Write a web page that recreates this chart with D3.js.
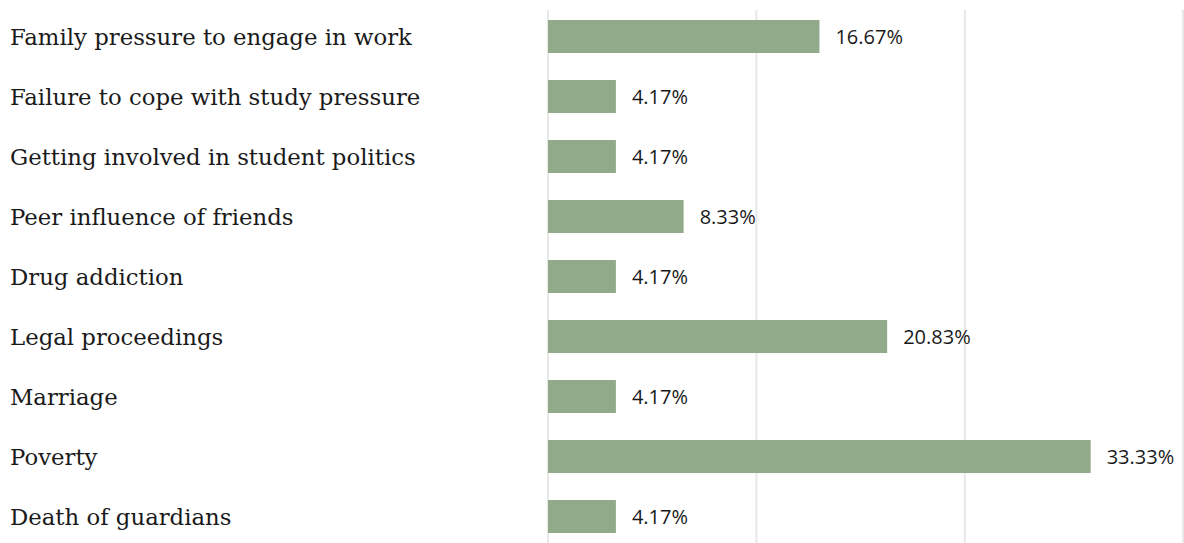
<!DOCTYPE html>
<html>
<head>
<meta charset="utf-8">
<script src="https://cdn.jsdelivr.net/npm/d3@7"></script>
<style>
  body { margin: 0; background: #fff; }
  svg { display: block; }
</style>
</head>
<body>
<svg width="1184" height="543"></svg>
<script>
// data
var categories = [
    "Family pressure to engage in work",
    "Failure to cope with study pressure",
    "Getting involved in student politics",
    "Peer influence of friends",
    "Drug addiction",
    "Legal proceedings",
    "Marriage",
    "Poverty",
    "Death of guardians"
];
var values = [16.67, 4.17, 4.17, 8.33, 4.17, 20.83, 4.17, 33.33, 4.17];
var gridTicks = [0, 12.8, 25.6, 39];

var svg = d3.select("svg");
var width = 1184, height = 543;

var x = d3.scaleLinear()
    .domain([0, 39])
    .range([548, 1183]);

var y = d3.scaleBand()
    .domain(categories)
    .range([6.5, 546.5])
    .paddingInner(0.45)
    .paddingOuter(0.225);

// vertical grid lines
svg.append("g")
    .selectAll("line")
    .data(gridTicks)
    .enter()
    .append("line")
    .attr("x1", function (d) { return x(d); })
    .attr("x2", function (d) { return x(d); })
    .attr("y1", 10)
    .attr("y2", height)
    .attr("stroke", "#e8e8e8")
    .attr("stroke-width", 2);

var rows = svg.append("g")
    .selectAll("g")
    .data(categories)
    .enter()
    .append("g");

rows.append("rect")
    .attr("x", x(0))
    .attr("y", function (d) { return y(d); })
    .attr("width", function (d, i) { return x(values[i]) - x(0); })
    .attr("height", y.bandwidth())
    .attr("fill", "#91aa89");

// category labels
rows.append("text")
    .attr("x", 10)
    .attr("y", function (d) { return y(d) + y.bandwidth() / 2 + 8.5; })
    .attr("font-family", "'DejaVu Serif', serif")
    .attr("font-size", 22.8)
    .attr("fill", "#1a1a1a")
    .text(function (d) { return d; });

// value labels
rows.append("text")
    .attr("x", function (d, i) { return x(values[i]) + 16; })
    .attr("y", function (d) { return y(d) + y.bandwidth() / 2 + 7; })
    .attr("font-family", "'Open Sans', sans-serif")
    .attr("font-size", 20)
    .attr("fill", "#1a1a1a")
    .text(function (d, i) { return values[i].toFixed(2) + "%"; });
</script>
</body>
</html>
